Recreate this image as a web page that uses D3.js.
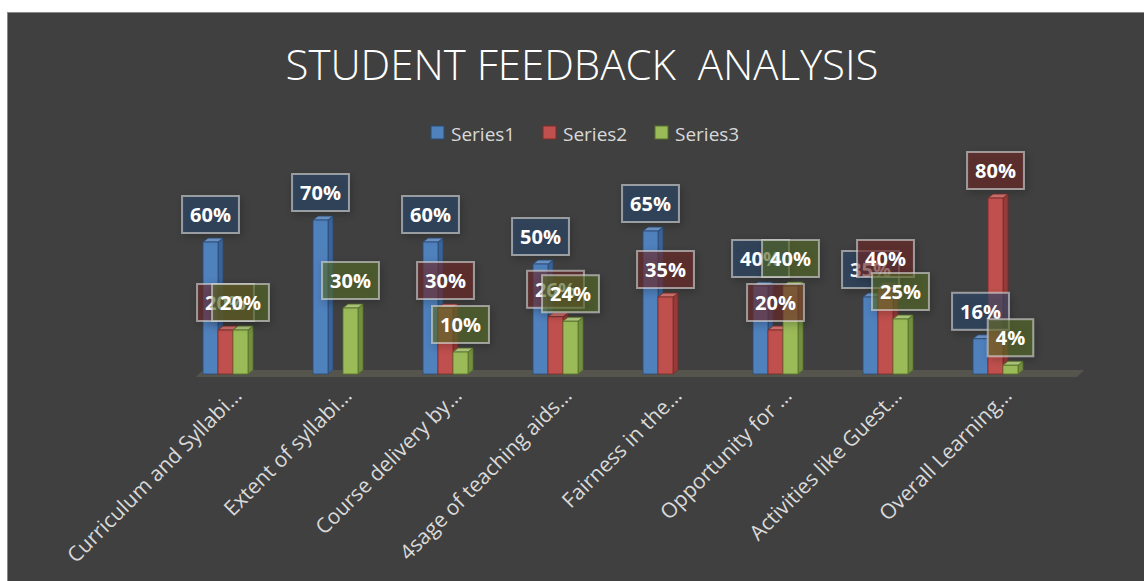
<!DOCTYPE html>
<html>
  <head>
    <meta charset="utf-8">
    <title>Student Feedback Analysis</title>
    <script src="https://cdn.jsdelivr.net/npm/d3@7"></script>
    <style>
      body { margin: 0; background: #fff; }
      svg { display: block; font-family: "Open Sans", "Noto Sans", sans-serif; }
    </style>
  </head>
  <body>
    <svg width="1144" height="581" id="mainsvg"></svg>
    <script>

    // chart data
    const categories = [
      'Curriculum and Syllabi…', 'Extent of syllabi…', 'Course delivery by…',
      '4sage of teaching aids…', 'Fairness in the…', 'Opportunity for …',
      'Activities like Guest…', 'Overall Learning…'
    ];
    const seriesNames = ['Series1', 'Series2', 'Series3'];
    const series1 = [60, 70, 60, 50, 65, 40, 35, 16];
    const series2 = [20, null, 30, 26, 35, 20, 40, 80];
    const series3 = [20, 30, 10, 24, null, 40, 25, 4];
    const seriesValues = [series1, series2, series3];

    const colors = {
      Series1: { front: '#4f81bd', side: '#3a6397', top: '#6f98cd', edge: '#2b4c74', label: 'rgba(44,70,105,0.62)' },
      Series2: { front: '#c0504d', side: '#953b39', top: '#d27370', edge: '#7a2c2a', label: 'rgba(112,40,40,0.58)' },
      Series3: { front: '#9bbb59', side: '#738f3f', top: '#b3cd7f', edge: '#55702a', label: 'rgba(86,106,42,0.58)' }
    };

    const svg = d3.select('svg');
    const width = +svg.attr('width');
    const height = +svg.attr('height');

    // shadow for the data label boxes
    const defs = svg.append('defs');
    const shadow = defs.append('filter').attr('id', 'shadow')
      .attr('x', '-30%').attr('y', '-30%').attr('width', '160%').attr('height', '170%');
    shadow.append('feDropShadow')
      .attr('dx', 2).attr('dy', 3).attr('stdDeviation', 4)
      .attr('flood-color', '#000').attr('flood-opacity', 0.35);

    // chart area
    svg.append('rect')
      .attr('x', 7.5).attr('y', 12.5)
      .attr('width', width).attr('height', height)
      .attr('fill', '#404040').attr('stroke', '#8a8a8a');

    // title
    svg.append('text')
      .attr('x', 582).attr('y', 80)
      .attr('text-anchor', 'middle')
      .attr('fill', '#fff')
      .attr('font-size', 42)
      .attr('font-weight', 300)
      .style('white-space', 'pre')
      .text('STUDENT FEEDBACK  ANALYSIS');

    // legend
    const legend = svg.append('g').selectAll('g')
      .data(seriesNames)
      .enter().append('g')
      .attr('transform', (d, i) => `translate(${431 + i * 112},126)`);
    legend.append('rect')
      .attr('width', 13).attr('height', 13)
      .attr('fill', d => colors[d].front)
      .attr('stroke', d => colors[d].edge);
    legend.append('text')
      .attr('x', 20).attr('y', 15)
      .attr('fill', '#d9d9d9')
      .attr('font-size', 19)
      .text(d => d);

    // scales
    const x = d3.scaleBand().domain(categories).range([171, 1051]);
    const xs = d3.scaleBand().domain(seriesNames).range([32, 77]);
    const y = d3.scaleLinear().domain([0, 100]).range([374, 154]);
    const dx = 5, dy = 4;
    const base = y(0);

    // floor
    const fx0 = x(categories[0]) + 25, fx1 = x(categories[categories.length - 1]) + x.bandwidth() + 26;
    svg.append('polygon')
      .attr('points', [[fx0, base + 3], [fx1, base + 3], [fx1 + 7, base - 4], [fx0 + 7, base - 4]].join(' '))
      .attr('fill', '#58584f').attr('opacity', 0.9);

    // flatten into bar records
    const bars = [];
    seriesNames.forEach((s, si) => {
      categories.forEach((c, ci) => {
        const v = seriesValues[si][ci];
        if (v !== null) bars.push({ series: s, cat: c, value: v });
      });
    });

    const bw = xs.bandwidth();
    const barG = svg.append('g').selectAll('g')
      .data(bars.slice().sort((a, b) => categories.indexOf(a.cat) - categories.indexOf(b.cat)))
      .enter().append('g')
      .attr('transform', d => `translate(${x(d.cat) + xs(d.series)},0)`);

    // side face
    barG.append('polygon')
      .attr('points', d => {
        const t = y(d.value);
        return [[bw, t], [bw + dx, t - dy], [bw + dx, base - dy], [bw, base]].join(' ');
      })
      .attr('fill', d => colors[d.series].side)
      .attr('stroke', d => colors[d.series].edge).attr('stroke-width', 0.8);
    // top face
    barG.append('polygon')
      .attr('points', d => {
        const t = y(d.value);
        return [[0, t], [dx, t - dy], [bw + dx, t - dy], [bw, t]].join(' ');
      })
      .attr('fill', d => colors[d.series].top)
      .attr('stroke', d => colors[d.series].edge).attr('stroke-width', 0.8);
    // front face
    barG.append('rect')
      .attr('x', 0).attr('y', d => y(d.value))
      .attr('width', bw).attr('height', d => base - y(d.value))
      .attr('fill', d => colors[d.series].front)
      .attr('stroke', d => colors[d.series].edge).attr('stroke-width', 0.8);

    // category labels
    svg.append('g').selectAll('text')
      .data(categories)
      .enter().append('text')
      .attr('transform', d => `translate(${x(d) + x.bandwidth() / 2 + 17},397) rotate(-45)`)
      .attr('text-anchor', 'end')
      .attr('fill', '#d9d9d9')
      .attr('font-size', 21)
      .text(d => d);

    // data labels, series by series
    const labels = svg.append('g').selectAll('g')
      .data(bars)
      .enter().append('g')
      .attr('transform', d => `translate(${x(d.cat) + xs(d.series) + bw / 2},${y(d.value) - 9})`);
    const boxes = labels.append('rect')
      .attr('filter', 'url(#shadow)')
      .attr('fill', d => colors[d.series].label)
      .attr('stroke', 'rgba(215,215,215,0.6)')
      .attr('stroke-width', 2);
    labels.append('text')
      .attr('y', -11)
      .attr('text-anchor', 'middle')
      .attr('fill', '#fff')
      .attr('font-size', 20)
      .attr('font-weight', 'bold')
      .text(d => d.value + '%')
      .each(function(d) { d.tw = this.getComputedTextLength(); });
    boxes
      .attr('x', d => -(d.tw + 16) / 2)
      .attr('y', -37)
      .attr('width', d => d.tw + 16)
      .attr('height', 37);

  </script>
  </body>
</html>
